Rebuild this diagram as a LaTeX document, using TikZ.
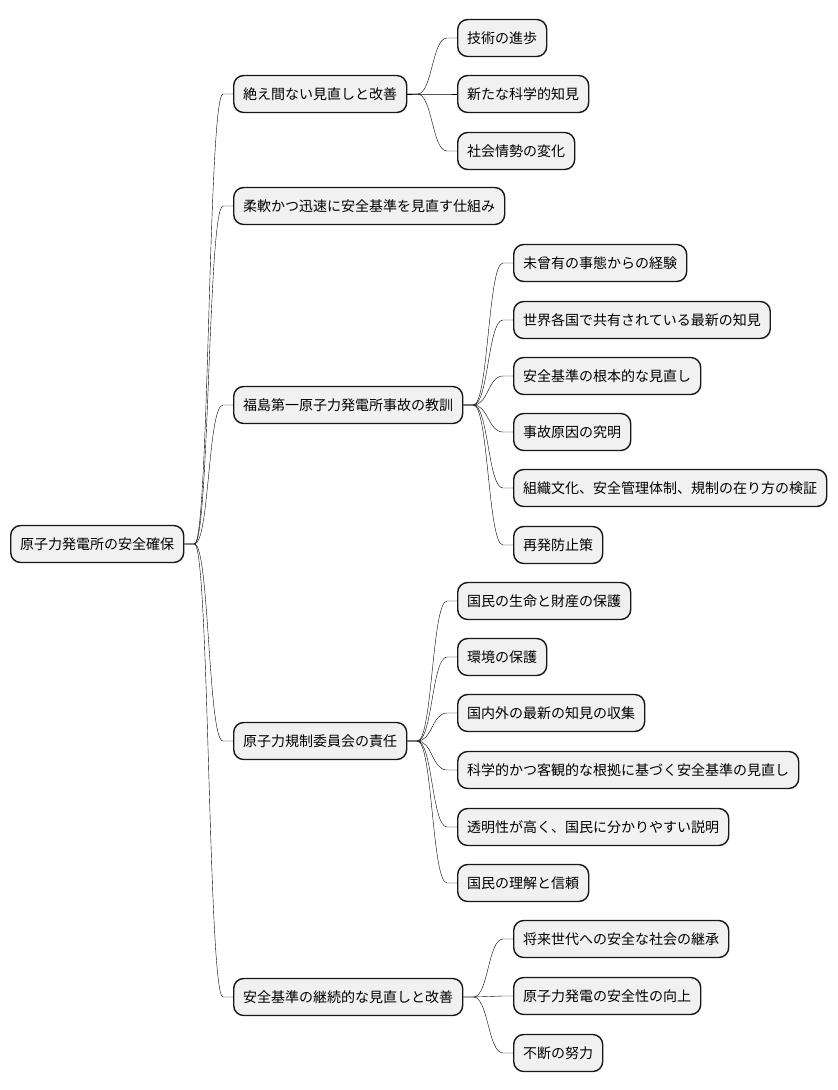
\documentclass[tikz,border=0pt]{standalone}
\usepackage{fontspec}
\setmainfont{Noto Sans CJK JP}
\usepackage{tikz}
\usetikzlibrary{calc}

\definecolor{boxfill}{HTML}{F1F1F1}
\definecolor{boxline}{HTML}{181818}

\tikzset{
    topic/.style={draw=boxline, fill=boxfill, line width=1.4pt,
        rounded corners=10pt, minimum height=37pt, inner xsep=9.5pt,
        anchor=west, font=\fontsize{14pt}{16pt}\selectfont},
    link/.style={draw=boxline, line width=1pt,
        to path={-- ++(10pt,0) .. controls +(15pt,0) and +(-15pt,0)
            .. ([xshift=-10pt]\tikztotarget.west) -- (\tikztotarget.west)}}
}

\begin{document}
\begin{tikzpicture}[x=1pt, y=-1pt]

\useasboundingbox (0,0) rectangle (838,1090);

% Root
\node[topic] (root) at (10,544) {原子力発電所の安全確保};

% First level
\node[topic] (review) at (233,94) {絶え間ない見直しと改善};
\node[topic] (flex) at (233,206) {柔軟かつ迅速に安全基準を見直す仕組み};
\node[topic] (lesson) at (233,405) {福島第一原子力発電所事故の教訓};
\node[topic] (nra) at (233,741) {原子力規制委員会の責任};
\node[topic] (cont) at (233,997) {安全基準の継続的な見直しと改善};

% Under review
\node[topic] (tech) at (457,38) {技術の進歩};
\node[topic] (sci) at (457,94) {新たな科学的知見};
\node[topic] (soc) at (457,151) {社会情勢の変化};

% Under lesson
\node[topic] (unprec) at (513,263) {未曾有の事態からの経験};
\node[topic] (world) at (513,320) {世界各国で共有されている最新の知見};
\node[topic] (radical) at (513,376) {安全基準の根本的な見直し};
\node[topic] (cause) at (513,432) {事故原因の究明};
\node[topic] (org) at (513,488) {組織文化、安全管理体制、規制の在り方の検証};
\node[topic] (prevent) at (513,545) {再発防止策};

% Under nra
\node[topic] (life) at (457,601) {国民の生命と財産の保護};
\node[topic] (env) at (457,657) {環境の保護};
\node[topic] (collect) at (457,713) {国内外の最新の知見の収集};
\node[topic] (basis) at (457,770) {科学的かつ客観的な根拠に基づく安全基準の見直し};
\node[topic] (transp) at (457,827) {透明性が高く、国民に分かりやすい説明};
\node[topic] (trust) at (457,883) {国民の理解と信頼};

% Under cont
\node[topic] (future) at (513,939) {将来世代への安全な社会の継承};
\node[topic] (improve) at (513,996) {原子力発電の安全性の向上};
\node[topic] (effort) at (513,1053) {不断の努力};

% Connectors
\draw (root.east) to[link] (review);
\draw (root.east) to[link] (flex);
\draw (root.east) to[link] (lesson);
\draw (root.east) to[link] (nra);
\draw (root.east) to[link] (cont);

\draw (review.east) to[link] (tech);
\draw (review.east) to[link] (sci);
\draw (review.east) to[link] (soc);

\draw (lesson.east) to[link] (unprec);
\draw (lesson.east) to[link] (world);
\draw (lesson.east) to[link] (radical);
\draw (lesson.east) to[link] (cause);
\draw (lesson.east) to[link] (org);
\draw (lesson.east) to[link] (prevent);

\draw (nra.east) to[link] (life);
\draw (nra.east) to[link] (env);
\draw (nra.east) to[link] (collect);
\draw (nra.east) to[link] (basis);
\draw (nra.east) to[link] (transp);
\draw (nra.east) to[link] (trust);

\draw (cont.east) to[link] (future);
\draw (cont.east) to[link] (improve);
\draw (cont.east) to[link] (effort);

\end{tikzpicture}
\end{document}
